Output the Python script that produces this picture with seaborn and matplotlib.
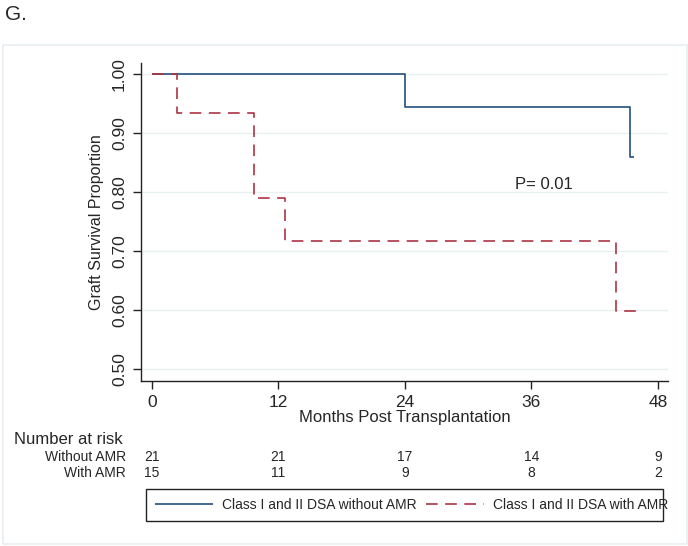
import pandas as pd
import numpy as np
import seaborn as sns
import matplotlib.pyplot as plt
from matplotlib.patches import Rectangle

# Kaplan-Meier step values
months_without = [0, 24.0, 45.4, 45.7]
surv_without = [1.0, 0.944, 0.859, 0.859]
months_with = [0, 2.4, 9.7, 12.6, 44.0, 46.1]
surv_with = [1.0, 0.933, 0.790, 0.717, 0.598, 0.598]

label_without = "Class I and II DSA without AMR"
label_with = "Class I and II DSA with AMR"

risk_times = [0, 12, 24, 36, 48]
risk_without = [21, 21, 17, 14, 9]
risk_with = [15, 11, 9, 8, 2]

y_ticks = [0.5, 0.6, 0.7, 0.8, 0.9, 1.0]

df = pd.concat([
    pd.DataFrame({"months": months_without, "surv": surv_without, "group": label_without}),
    pd.DataFrame({"months": months_with, "surv": surv_with, "group": label_with}),
], ignore_index=True)

sns.set_style("white")
plt.rcParams['font.family'] = ['Liberation Sans', 'DejaVu Sans']

W, H = 688, 546
fig = plt.figure(figsize=(W / 100, H / 100), dpi=100)
ax = fig.add_axes([141 / W, 1 - 381 / H, (668 - 141) / W, (381 - 63) / H])

blue, red = "#24507f", "#ad3444"
sns.lineplot(data=df, x="months", y="surv", hue="group", style="group",
             hue_order=[label_without, label_with], style_order=[label_without, label_with],
             palette=[blue, red], dashes=[(1, 0), (7, 4.5)], drawstyle="steps-post",
             estimator=None, linewidth=1.2, ax=ax)

handles, labels = ax.get_legend_handles_labels()
ax.get_legend().remove()

ax.set_xlim(-1.04, 48.96)
ax.set_ylim(0.48, 1.018)
ax.set_xticks(risk_times)
ax.set_yticks(y_ticks)
ax.set_yticklabels([f"{v:.2f}" for v in y_ticks], rotation=90, va="center")
ax.grid(axis="y", color="#e8f0f2", linewidth=1)
ax.set_axisbelow(True)
for s in ["top", "right"]:
    ax.spines[s].set_visible(False)
for s in ["left", "bottom"]:
    ax.spines[s].set_color("#222222")
    ax.spines[s].set_linewidth(1.0)
ax.tick_params(axis="both", direction="out", length=6, width=1, color="#222222",
               labelsize=12.5, pad=4, left=True, bottom=True)
ax.set_xlabel("Months Post Transplantation", fontsize=12, labelpad=0)
ax.set_ylabel("Graft Survival Proportion", fontsize=11.5, labelpad=6)

ax.text(34.4, 0.812, "P= 0.01", fontsize=12, va="center", ha="left")

# number at risk table
fig.text(14 / W, 1 - 439 / H, "Number at risk", fontsize=12, va="center", ha="left")
fig.text(126 / W, 1 - 457 / H, "Without AMR", fontsize=10, va="center", ha="right")
fig.text(126 / W, 1 - 473 / H, "With AMR", fontsize=10, va="center", ha="right")
for t, a, b in zip(risk_times, risk_without, risk_with):
    ax.annotate(str(a), xy=(t, H - 457), xycoords=("data", "figure pixels"),
                ha="center", va="center", fontsize=10, annotation_clip=False)
    ax.annotate(str(b), xy=(t, H - 473), xycoords=("data", "figure pixels"),
                ha="center", va="center", fontsize=10, annotation_clip=False)

# legend without its own frame; box drawn separately like the reference
fig.legend(handles, labels, ncol=2, loc="center left",
           bbox_to_anchor=(148 / W, 1 - 505 / H), fontsize=10,
           frameon=False, borderpad=0, handlelength=4.2,
           handletextpad=0.6, columnspacing=0.7)
fig.patches.append(Rectangle((146 / W, 1 - 521 / H), (663 - 146) / W, (521 - 489) / H,
                             transform=fig.transFigure, fill=False,
                             edgecolor="#222222", linewidth=1.0, zorder=0))

# outer graph region border and panel letter
fig.patches.append(Rectangle((3 / W, 2 / H), 684 / W, (544 - 45) / H,
                             transform=fig.transFigure, fill=False,
                             edgecolor="#e8eef0", linewidth=1.2))
fig.text(5 / W, 1 - 15 / H, "G.", fontsize=15, va="center", ha="left")

fig.savefig("out.png", dpi=100)
